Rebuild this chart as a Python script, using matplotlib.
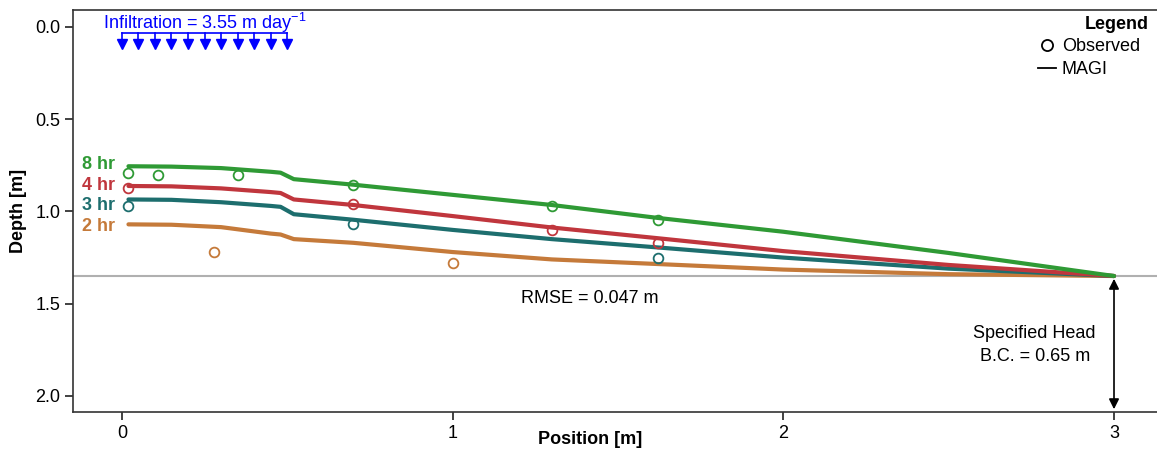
import matplotlib
matplotlib.use('Agg')
import matplotlib.pyplot as plt
from matplotlib.lines import Line2D
import numpy as np

plt.rcParams['font.family'] = ['Liberation Sans', 'DejaVu Sans']

# MAGI simulated water table (position [m], depth [m])
x_sim = [0.02, 0.15, 0.30, 0.45, 0.48, 0.52, 0.70, 1.00, 1.30, 1.62, 2.00, 2.50, 3.00]
sim = {
    '8 hr': [0.755, 0.757, 0.765, 0.785, 0.79, 0.825, 0.855, 0.91, 0.965, 1.035, 1.11, 1.225, 1.35],
    '4 hr': [0.862, 0.864, 0.875, 0.895, 0.90, 0.935, 0.965, 1.025, 1.087, 1.145, 1.215, 1.29, 1.35],
    '3 hr': [0.935, 0.937, 0.95, 0.97, 0.975, 1.015, 1.045, 1.10, 1.15, 1.195, 1.25, 1.31, 1.35],
    '2 hr': [1.07, 1.072, 1.085, 1.12, 1.125, 1.15, 1.17, 1.22, 1.26, 1.285, 1.315, 1.34, 1.35],
}

# observed water table
obs = {
    '8 hr': ([0.02, 0.11, 0.35, 0.70, 1.30, 1.62], [0.79, 0.80, 0.80, 0.855, 0.97, 1.045]),
    '4 hr': ([0.02, 0.70, 1.30, 1.62], [0.875, 0.957, 1.10, 1.17]),
    '3 hr': ([0.02, 0.70, 1.62], [0.97, 1.07, 1.25]),
    '2 hr': ([0.28, 1.00], [1.22, 1.28]),
}

label_depth = {'8 hr': 0.745, '4 hr': 0.859, '3 hr': 0.967, '2 hr': 1.082}
colors = {'8 hr': '#2f9a35', '4 hr': '#c0363d', '3 hr': '#1d6e6e', '2 hr': '#c57a3a'}

head_depth = 1.35
rmse = 0.047
infil_x = np.round(np.arange(0, 0.51, 0.05), 2)

fig = plt.figure(figsize=(11.57, 4.53), dpi=100)
ax = fig.add_axes([0.063, 0.0905, 0.937, 0.8875])

ax.axhline(head_depth, color='#b0b0b0', lw=1.5, zorder=1)

for key in ['2 hr', '3 hr', '4 hr', '8 hr']:
    ax.plot(x_sim, sim[key], color=colors[key], lw=3.0, solid_capstyle='round', zorder=2)
    ox, oy = obs[key]
    ax.plot(ox, oy, 'o', mfc='none', mec=colors[key], ms=7, mew=1.3, zorder=3)
    ax.text(-0.02, label_depth[key], key, color=colors[key], fontsize=13, fontweight='bold',
            ha='right', va='center')

# infiltration arrows
ax.plot([infil_x[0], infil_x[-1]], [0.035, 0.035], color='blue', lw=1.2)
for xi in infil_x:
    ax.plot([xi, xi], [0.035, 0.08], color='blue', lw=1.2)
ax.plot(infil_x, np.full(len(infil_x), 0.09), 'v', color='blue', ms=7.5)
ax.text(0.25, 0.042, r'Infiltration = 3.55 m day$^{\mathregular{-1}}$', color='blue',
        fontsize=13, ha='center', va='bottom')

# specified head arrow
ax.annotate('', xy=(3, head_depth), xytext=(3, 2.087),
            arrowprops=dict(arrowstyle='<|-|>', color='black', lw=1.2, mutation_scale=15))
ax.text(2.76, 1.725, 'Specified Head\nB.C. = 0.65 m', ha='center', va='center', fontsize=13,
        linespacing=1.45)
ax.text(1.415, 1.47, f'RMSE = {rmse} m', ha='center', va='center', fontsize=13)

# legend
handles = [Line2D([], [], marker='o', ls='none', mfc='none', mec='black', ms=8, mew=1.3),
           Line2D([], [], color='black', lw=1.3)]
ax.legend(handles, ['Observed', 'MAGI'], loc='upper right',
          frameon=False, fontsize=13, handlelength=1.0, handletextpad=0.3,
          borderaxespad=0.0, labelspacing=0.35, bbox_to_anchor=(0.991, 0.948))
ax.text(0.963, 0.965, 'Legend', transform=ax.transAxes, fontsize=13, fontweight='bold',
        ha='center', va='center')

ax.set_xlim(-0.148, 3.13)
ax.set_ylim(2.087, -0.092)
ax.set_xticks([0, 1, 2, 3])
ax.set_yticks([0.0, 0.5, 1.0, 1.5, 2.0])
ax.set_yticklabels(['0.0', '0.5', '1.0', '1.5', '2.0'])
ax.tick_params(labelsize=13, length=6, width=1.3, color='#333333', pad=3)
for s in ax.spines.values():
    s.set_color('#333333')
    s.set_linewidth(1.2)
ax.spines['right'].set_visible(False)

ax.set_xlabel('Position [m]', fontsize=13, fontweight='bold')
ax.xaxis.set_label_coords(0.477, -0.048)
ax.set_ylabel('Depth [m]', fontsize=13, fontweight='bold', labelpad=6)

fig.savefig('out.png', dpi=100)
